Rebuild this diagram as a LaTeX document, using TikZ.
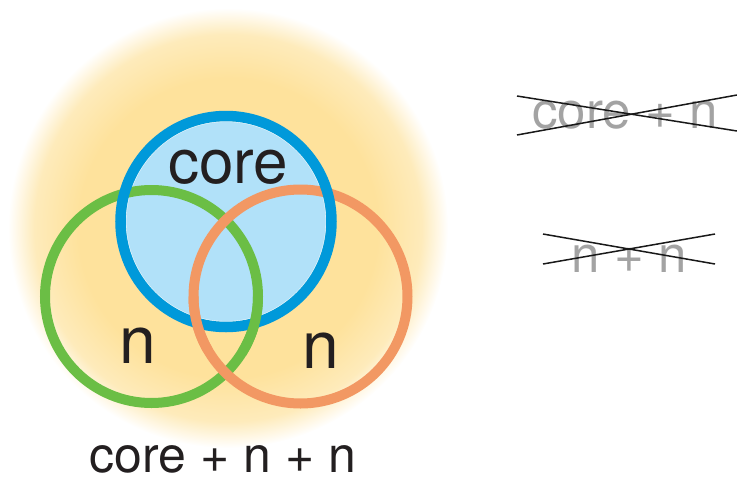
\documentclass[tikz,border=0pt]{standalone}
\usepackage{fontspec}
\setmainfont{TeX Gyre Heros}
\definecolor{yel}{HTML}{FEE29C}
\definecolor{yelmid}{HTML}{FEEBBB}
\definecolor{cblue}{HTML}{0099DA}
\definecolor{cfill}{HTML}{B1E1F9}
\definecolor{cgreen}{HTML}{6BBE45}
\definecolor{corange}{HTML}{F29863}
\definecolor{ink}{HTML}{231F20}
\definecolor{ghost}{HTML}{A3A3A3}
\pgfdeclareradialshading{glow}{\pgfpoint{0bp}{0bp}}{color(0bp)=(yel); color(17bp)=(yel); color(22bp)=(yelmid); color(25bp)=(white); color(50bp)=(white)}
\begin{document}
\begin{tikzpicture}[x=1pt,y=-1pt,
  ringB/.style={draw=cblue,line width=10.5pt},
  ringG/.style={draw=cgreen,line width=10pt},
  ringO/.style={draw=corange,line width=10pt},
  bigtxt/.style={text=ink,anchor=base,inner sep=0pt,font=\fontsize{62}{70}\selectfont},
  ntxt/.style={text=ink,anchor=base,inner sep=0pt,font=\fontsize{66}{70}\selectfont},
  midtxt/.style={text=ink,anchor=base,inner sep=0pt,font=\fontsize{50}{60}\selectfont},
  ghosttxt/.style={text=ghost,anchor=base,inner sep=0pt,font=\fontsize{51}{60}\selectfont},
  strike/.style={draw=black!90,line width=1.5pt}]
\useasboundingbox (0,0) rectangle (737,483);
% glow
\coordinate (Y) at (228,228);
\shade[shading=glow] (Y) circle[radius=220];
% centres
\coordinate (B) at (226,221.5);
\coordinate (G) at (151.5,296.5);
\coordinate (O) at (300.5,296.5);
% core fill
\fill[cfill] (B) circle[radius=100];
\draw[white!70!cfill,line width=0.8pt] (B) circle[radius=100];
% rings
\draw[ringG] (G) circle[radius=106.5];
\draw[ringO] (O) circle[radius=107];
\draw[ringB] (B) circle[radius=105.5];
% weave: bottom crossings over the blue ring
\draw[ringG] (G) ++(0:106.5) arc[start angle=0,end angle=32,radius=106.5];
\draw[ringO] (O) ++(150:107) arc[start angle=150,end angle=180,radius=107];
% labels
\node[bigtxt] (core) at (228,183) {core};
\node[ntxt] (n1) at (138,363) {n};
\node[ntxt] (n2) at (321,368) {n};
\node[midtxt] (sum) at (223,472) {core + n + n};
% crossed-out alternatives
\node[ghosttxt] (alt1) at (625,128) {core + n};
\node[ghosttxt] (alt2) at (629,272) {n + n};
\coordinate (a1) at (517,96);
\coordinate (a2) at (737,131);
\coordinate (a3) at (517,135);
\coordinate (a4) at (737,95);
\draw[strike] (a1) -- (a2);
\draw[strike] (a3) -- (a4);
\coordinate (b1) at (543,234);
\coordinate (b2) at (715,264);
\coordinate (b3) at (543,264);
\coordinate (b4) at (715,234);
\draw[strike] (b1) -- (b2);
\draw[strike] (b3) -- (b4);
\end{tikzpicture}
\end{document}
